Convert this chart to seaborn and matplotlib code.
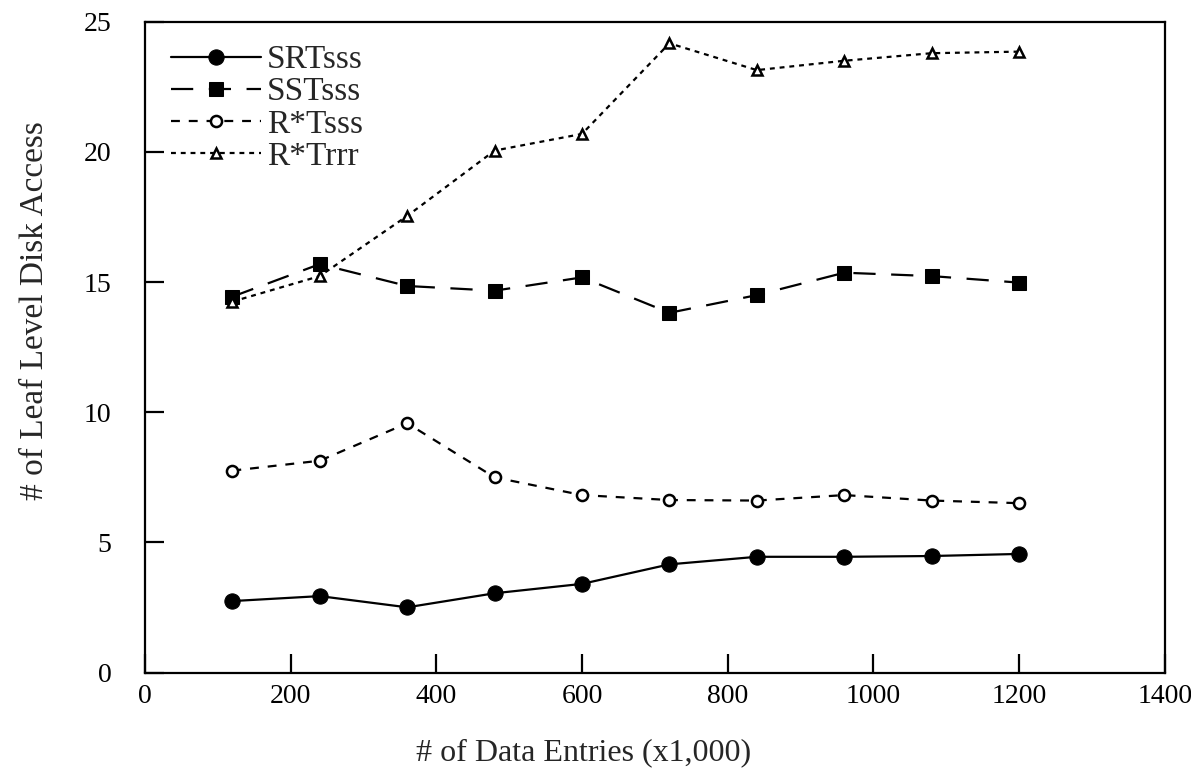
import matplotlib
matplotlib.use("Agg")
import matplotlib.pyplot as plt
import seaborn as sns
import pandas as pd

entries = [120, 240, 360, 480, 600, 720, 840, 960, 1080, 1200]
srt_sss = [2.75, 2.94, 2.51, 3.05, 3.41, 4.16, 4.45, 4.45, 4.48, 4.56]
sst_sss = [14.44, 15.69, 14.85, 14.67, 15.18, 13.82, 14.50, 15.36, 15.23, 14.98]
rstar_sss = [7.76, 8.14, 9.58, 7.50, 6.82, 6.63, 6.61, 6.82, 6.61, 6.51]
rstar_rrr = [14.25, 15.23, 17.54, 20.05, 20.69, 24.17, 23.14, 23.50, 23.79, 23.85]
series_names = ["SRTsss", "SSTsss", "R*Tsss", "R*Trrr"]
x_ticks = [0, 200, 400, 600, 800, 1000, 1200, 1400]
y_ticks = [0, 5, 10, 15, 20, 25]

sns.set_style("white")
plt.rcParams['font.family'] = ['Liberation Serif', 'DejaVu Serif']

fig = plt.figure(figsize=(11.91, 7.83), dpi=100)
ax = fig.add_axes([0.1217, 0.1409, 0.8563, 0.8314])

styles = [
    dict(linestyle='-', marker='o', markersize=11, markerfacecolor='black', markeredgecolor='black'),
    dict(linestyle=(0, (10, 7)), marker='s', markersize=10, markerfacecolor='black', markeredgecolor='black'),
    dict(linestyle=(0, (4, 4)), marker='o', markersize=8, markerfacecolor='white', markeredgecolor='black', markeredgewidth=1.8),
    dict(linestyle=(0, (2.2, 2.2)), marker='^', markersize=7, markerfacecolor='white', markeredgecolor='black', markeredgewidth=1.8),
]
data_series = [srt_sss, sst_sss, rstar_sss, rstar_rrr]
for name, vals, st in zip(series_names, data_series, styles):
    df = pd.DataFrame({"x": entries, "y": vals})
    sns.lineplot(data=df, x="x", y="y", ax=ax, color='black', linewidth=1.6,
                 label=name, **st)

ax.set_xlim(0, 1400)
ax.set_ylim(0, 25)
ax.set_xticks(x_ticks)
ax.set_yticks(y_ticks)
ax.tick_params(axis='both', bottom=True, left=True, direction='in', length=14,
               width=1.6, labelsize=20, colors='black')
ax.tick_params(axis='x', pad=8)
ax.tick_params(axis='y', pad=24)
for sp in ax.spines.values():
    sp.set_visible(True)
    sp.set_color('black')
    sp.set_linewidth(1.6)

ax.set_xlabel("# of Data Entries (x1,000)", fontsize=23)
ax.xaxis.set_label_coords(0.43, -0.10)
ax.set_ylabel("# of Leaf Level Disk Access", fontsize=24)
ax.yaxis.set_label_coords(-0.093, 0.557)

leg = ax.legend(loc='upper left', frameon=False, fontsize=24, handlelength=2.7,
                handletextpad=0.2, labelspacing=0.05, borderaxespad=0.0,
                bbox_to_anchor=(0.012, 0.985))

fig.savefig("out.png", dpi=100)
